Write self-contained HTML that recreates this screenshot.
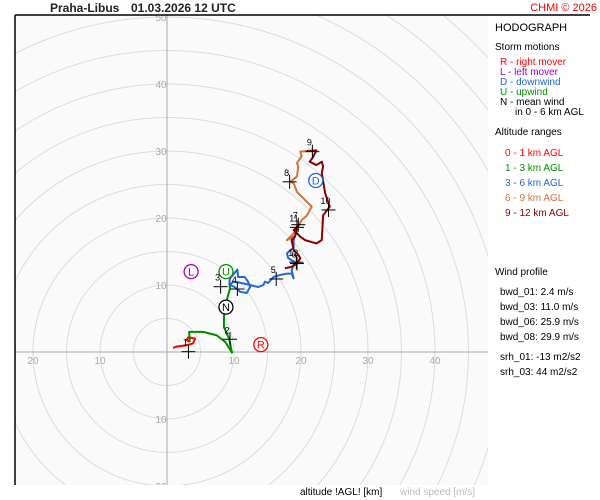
<!DOCTYPE html>
<html><head><meta charset="utf-8">
<style>
html,body{margin:0;padding:0;background:#fff;width:600px;height:500px;overflow:hidden;}
svg{display:block;font-family:"Liberation Sans",Arial,sans-serif;}
</style></head>
<body>
<svg id="chart" width="600" height="500" viewBox="0 0 600 500">
  <defs><clipPath id="plotclip"><rect x="15" y="15" width="473" height="470"/></clipPath></defs>
  <rect x="0" y="0" width="600" height="500" fill="#ffffff"/>
  <rect x="15" y="15" width="473" height="470" fill="#fafafa"/>
  <g id="grid" clip-path="url(#plotclip)"></g>
  <g id="axes" clip-path="url(#plotclip)"></g>
  <g id="series" clip-path="url(#plotclip)"></g>
  <g id="marks"></g>
  <line x1="15" y1="15" x2="15" y2="485" stroke="#000" stroke-width="1.5"/>
  <line x1="15" y1="15" x2="590" y2="15" stroke="#000" stroke-width="1.5"/>
  <text x="50" y="12" font-size="12" font-weight="bold" fill="#222">Praha-Libus</text>
  <text x="131" y="12" font-size="12" font-weight="bold" fill="#222">01.03.2026 12 UTC</text>
  <text x="597" y="11" font-size="11" fill="#ee0000" text-anchor="end">CHMI © 2026</text>
  <g font-size="10">
    <text x="495" y="31" font-size="11" fill="#000">HODOGRAPH</text>
    <text x="495" y="50" fill="#000">Storm motions</text>
    <text x="500" y="65" fill="#ff0000">R - right mover</text>
    <text x="500" y="75" fill="#a000c0">L - left mover</text>
    <text x="500" y="85" fill="#2266dd">D - downwind</text>
    <text x="500" y="95" fill="#009000">U - upwind</text>
    <text x="500" y="105" fill="#000">N - mean wind</text>
    <text x="515" y="115" fill="#000">in 0 - 6 km AGL</text>
    <text x="495" y="135" fill="#000">Altitude ranges</text>
    <text x="505" y="156" fill="#ff0000">0 - 1 km AGL</text>
    <text x="505" y="171" fill="#009000">1 - 3 km AGL</text>
    <text x="505" y="186" fill="#2266dd">3 - 6 km AGL</text>
    <text x="505" y="201" fill="#d2733c">6 - 9 km AGL</text>
    <text x="505" y="216" fill="#8b0000">9 - 12 km AGL</text>
    <text x="495" y="275" fill="#000">Wind profile</text>
    <text x="500" y="295" fill="#000">bwd_01: 2.4 m/s</text>
    <text x="500" y="310" fill="#000">bwd_03: 11.0 m/s</text>
    <text x="500" y="325" fill="#000">bwd_06: 25.9 m/s</text>
    <text x="500" y="340" fill="#000">bwd_08: 29.9 m/s</text>
    <text x="500" y="360" fill="#000">srh_01: -13 m2/s2</text>
    <text x="500" y="375" fill="#000">srh_03: 44 m2/s2</text>
  </g>
  <text x="300" y="495" font-size="10" fill="#000">altitude !AGL! [km]</text>
  <text x="400" y="495" font-size="10" fill="#bbb">wind speed [m/s]</text>
</svg>
<script>
const xTicks = [-20,-10,10,20,30,40];
const yTicks = [50,40,30,20,10,-10,-20];
const ringSpeeds = [5,10,15,20,25,30,35,40,45,50,55,60,65,70,75];
// wind trace segments (u, v in m/s)
const seg01U = [0.9,1.4,2.9,3.9,4.2,3.2,2.9,3.4];
const seg01V = [0.6,0.8,1.0,1.3,2.0,2.2,1.8,1.5];
const seg13U = [3.4,3.3,5.4,7.4,8.7,9.7,9.3,8.5,8.5,9.0,9.4,9.3];
const seg13V = [1.5,3.0,3.0,2.5,1.5,-0.1,1.9,3.7,5.3,8.0,9.5,10.3];
const seg36U = [9.3,9.4,10.5,10.6,11.6,12.1,12.4,11.9,10.9,10.1,9.4,9.9,11.1,12.4,13.6,14.4,14.6,15.1,15.9,16.9,17.9,18.6,18.9,18.6,18.9,19.4,18.1,17.9,18.4,18.9,18.9,19.0];
const seg36V = [10.3,11.0,12.3,11.2,11.2,10.5,9.7,8.8,9.0,9.7,10.0,10.5,10.3,10.0,9.7,10.0,10.5,10.3,11.2,11.5,11.7,11.7,11.0,12.2,13.0,13.2,14.0,14.7,15.2,15.5,16.7,17.3];
const seg69U = [19.0,17.9,18.9,19.6,20.1,20.9,21.6,20.9,20.1,19.4,18.9,18.4,19.4,19.6,19.4,20.1,19.9,20.9];
const seg69V = [17.3,16.7,17.7,18.7,19.7,20.4,21.7,22.4,23.2,23.9,25.2,25.4,26.2,27.7,28.2,29.2,29.9,30.0];
const seg912U = [20.9,22.3,21.8,21.3,22.3,23.1,23.3,23.1,23.6,24.3,23.3,23.1,22.3,20.6,19.9,19.4,18.9,19.4,19.1,18.6,18.9,19.6,19.9,19.4,18.6,17.6];
const seg912V = [30.0,30.1,29.1,28.4,27.9,28.4,27.7,26.7,23.7,21.7,20.4,16.7,16.2,16.7,17.2,17.7,18.2,18.7,17.2,16.7,15.2,14.5,14.0,13.2,12.7,12.5];
// altitude markers (km)
const altLabels = ["1","2","3","4","5","6","7","8","9","10","11","12"];
const altU = [3.2,9.4,8.0,10.5,16.3,19.4,19.6,18.3,21.7,24.1,19.4,19.3];
const altV = [0.05,1.9,9.75,9.4,10.9,13.2,19.0,25.4,29.9,21.2,18.6,13.4];
// storm motions
const stormLabels = ["R","L","U","N","D"];
const stormU = [14.0,3.6,8.8,8.8,22.2];
const stormV = [1.1,12.0,12.0,6.7,25.6];

const CX=167, CY=352, K=6.7;
const sx = u => CX + u*K;
const sy = v => CY - v*K;
const NS="http://www.w3.org/2000/svg";
function mk(tag, attrs, parent){const e=document.createElementNS(NS,tag);for(const k in attrs)e.setAttribute(k,attrs[k]);parent.appendChild(e);return e;}

const grid=document.getElementById('grid');
ringSpeeds.forEach(s=>{
  const c=mk('circle',{cx:CX,cy:CY,r:s*K,fill:'none',stroke:'#dcdcdc','stroke-width':1},grid);
  
  
});
const axes=document.getElementById('axes');
const xa=mk('line',{x1:15,y1:CY,x2:488,y2:CY,stroke:'#aaa','stroke-width':1},axes);


const ya=mk('line',{x1:CX,y1:15,x2:CX,y2:485,stroke:'#aaa','stroke-width':1},axes);


xTicks.forEach(t=>{
  const e=mk('text',{x:sx(t),y:CY+12,'font-size':10,fill:'#aaa','text-anchor':'middle'},axes);
  e.textContent=Math.abs(t);
  
  
});
yTicks.forEach(t=>{
  const e=mk('text',{x:CX-6,y:sy(t)+4,'font-size':10,fill:'#aaa','text-anchor':'middle'},axes);
  e.textContent=Math.abs(t);
  
  
});

const series=document.getElementById('series');
function trace(U,V,color,name){
  const p=mk('polyline',{points:U.map((u,i)=>sx(u)+','+sy(V[i])).join(' '),fill:'none',stroke:color,'stroke-width':2,'stroke-linejoin':'round'},series);
  
  
}
trace(seg01U,seg01V,'#ff0000','trace-0-1km');
trace(seg13U,seg13V,'#008c00','trace-1-3km');
trace(seg36U,seg36V,'#2266dd','trace-3-6km');
trace(seg69U,seg69V,'#d2733c','trace-6-9km');
trace(seg912U,seg912V,'#8b0000','trace-9-12km');

const marks=document.getElementById('marks');
altLabels.forEach((l,i)=>{
  const x=sx(altU[i]), y=sy(altV[i]);
  const g=mk('g',{},marks);
  
  
  mk('line',{x1:x-7,y1:y,x2:x+7,y2:y,stroke:'#000','stroke-width':1},g);
  mk('line',{x1:x,y1:y-7,x2:x,y2:y+7,stroke:'#000','stroke-width':1},g);
  const t=mk('text',{x:x-3,y:y-6,'font-size':9,fill:'#000','text-anchor':'middle'},g);
  t.textContent=l;
});
const stormColors={R:'#ff0000',L:'#a000c0',U:'#009000',N:'#000000',D:'#2266dd'};
stormLabels.forEach((l,i)=>{
  const x=sx(stormU[i]), y=sy(stormV[i]);
  const g=mk('g',{},marks);
  
  
  mk('circle',{cx:x,cy:y,r:7,fill:'#fff',stroke:stormColors[l],'stroke-width':1.3},g);
  const t=mk('text',{x:x,y:y+4,'font-size':11,fill:stormColors[l],'text-anchor':'middle'},g);
  t.textContent=l;
});
</script>
</body></html>
